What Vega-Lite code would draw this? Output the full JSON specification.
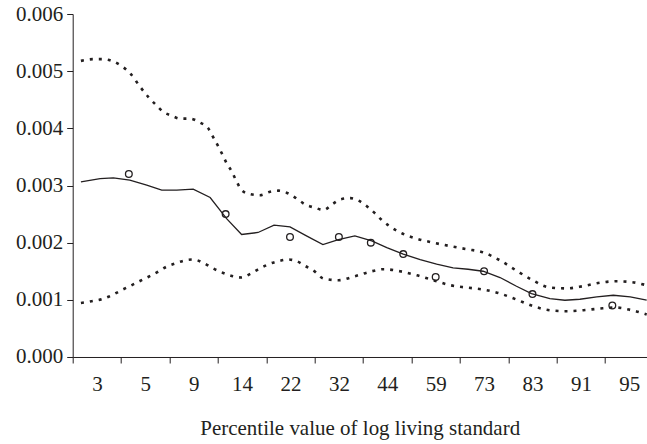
{
  "$schema": "https://vega.github.io/schema/vega-lite/v6.json",
  "width": 574,
  "height": 343,
  "autosize": {"type": "none"},
  "padding": {"left": 72.7, "top": 14, "right": 0, "bottom": 87},
  "background": "white",
  "config": {
    "view": {"stroke": null},
    "axis": {
      "labelFont": "Liberation Serif",
      "titleFont": "Liberation Serif",
      "labelFontSize": 21,
      "titleFontSize": 21,
      "titleFontWeight": "normal",
      "labelColor": "#231f20",
      "titleColor": "#231f20",
      "domainColor": "#231f20",
      "tickColor": "#231f20",
      "grid": false,
      "tickSize": 6
    }
  },
  "datasets": {
    "mid": [
      {"x": 0.17, "y": 0.003065}, {"x": 0.566, "y": 0.00312}, {"x": 0.84, "y": 0.003135},
      {"x": 1.18, "y": 0.003095}, {"x": 1.53, "y": 0.003007}, {"x": 1.84, "y": 0.00292},
      {"x": 2.15, "y": 0.00292}, {"x": 2.49, "y": 0.002937}, {"x": 2.84, "y": 0.00279},
      {"x": 3.18, "y": 0.00242}, {"x": 3.49, "y": 0.002143}, {"x": 3.83, "y": 0.002178},
      {"x": 4.16, "y": 0.002306}, {"x": 4.49, "y": 0.002277}, {"x": 4.83, "y": 0.00212},
      {"x": 5.17, "y": 0.001968}, {"x": 5.49, "y": 0.002055}, {"x": 5.83, "y": 0.00212},
      {"x": 6.18, "y": 0.00203}, {"x": 6.49, "y": 0.001915}, {"x": 6.83, "y": 0.0018},
      {"x": 7.18, "y": 0.001705}, {"x": 7.52, "y": 0.001623}, {"x": 7.86, "y": 0.00156},
      {"x": 8.17, "y": 0.001535}, {"x": 8.48, "y": 0.0015}, {"x": 8.83, "y": 0.00139},
      {"x": 9.17, "y": 0.001238}, {"x": 9.48, "y": 0.00111}, {"x": 9.86, "y": 0.001022},
      {"x": 10.17, "y": 0.000993}, {"x": 10.48, "y": 0.00101}, {"x": 10.83, "y": 0.00105},
      {"x": 11.17, "y": 0.00108}, {"x": 11.52, "y": 0.00105}, {"x": 11.86, "y": 0.000993}
    ],
    "upper": [
      {"x": 0.17, "y": 0.00518}, {"x": 0.43, "y": 0.00521}, {"x": 0.63, "y": 0.00521},
      {"x": 0.84, "y": 0.00517}, {"x": 1.01, "y": 0.00509}, {"x": 1.18, "y": 0.00497},
      {"x": 1.39, "y": 0.00473}, {"x": 1.56, "y": 0.00455}, {"x": 1.72, "y": 0.00441},
      {"x": 1.87, "y": 0.00429}, {"x": 2.05, "y": 0.00422}, {"x": 2.22, "y": 0.00417},
      {"x": 2.42, "y": 0.00417}, {"x": 2.63, "y": 0.0041}, {"x": 2.8, "y": 0.004},
      {"x": 2.9, "y": 0.00385}, {"x": 3.01, "y": 0.00368}, {"x": 3.1, "y": 0.00353},
      {"x": 3.18, "y": 0.00339}, {"x": 3.29, "y": 0.00324}, {"x": 3.39, "y": 0.003065},
      {"x": 3.49, "y": 0.00292}, {"x": 3.66, "y": 0.00285}, {"x": 3.87, "y": 0.00283},
      {"x": 4.08, "y": 0.00289}, {"x": 4.25, "y": 0.00291}, {"x": 4.43, "y": 0.00287},
      {"x": 4.63, "y": 0.00277}, {"x": 4.8, "y": 0.00267}, {"x": 5.01, "y": 0.00261},
      {"x": 5.18, "y": 0.00257}, {"x": 5.36, "y": 0.00267}, {"x": 5.54, "y": 0.00276},
      {"x": 5.74, "y": 0.00278}, {"x": 5.92, "y": 0.00273}, {"x": 6.09, "y": 0.00263},
      {"x": 6.25, "y": 0.00251}, {"x": 6.38, "y": 0.0024}, {"x": 6.56, "y": 0.00228},
      {"x": 6.76, "y": 0.00218}, {"x": 7.11, "y": 0.00207}, {"x": 7.45, "y": 0.002},
      {"x": 7.8, "y": 0.00194}, {"x": 8.14, "y": 0.001886}, {"x": 8.48, "y": 0.00183},
      {"x": 8.83, "y": 0.00169}, {"x": 9.17, "y": 0.00151}, {"x": 9.48, "y": 0.001355},
      {"x": 9.86, "y": 0.001215}, {"x": 10.2, "y": 0.0012}, {"x": 10.55, "y": 0.00124},
      {"x": 10.9, "y": 0.0013}, {"x": 11.24, "y": 0.001325}, {"x": 11.55, "y": 0.00131},
      {"x": 11.86, "y": 0.001255}
    ],
    "lower": [
      {"x": 0.17, "y": 0.000946}, {"x": 0.39, "y": 0.000975}, {"x": 0.6, "y": 0.00101},
      {"x": 0.81, "y": 0.00108}, {"x": 1.01, "y": 0.00117}, {"x": 1.18, "y": 0.00124},
      {"x": 1.39, "y": 0.00133}, {"x": 1.56, "y": 0.0014}, {"x": 1.74, "y": 0.00148},
      {"x": 1.94, "y": 0.00158}, {"x": 2.11, "y": 0.001635}, {"x": 2.32, "y": 0.00169},
      {"x": 2.49, "y": 0.001705}, {"x": 2.7, "y": 0.001646}, {"x": 2.9, "y": 0.00155},
      {"x": 3.11, "y": 0.00147}, {"x": 3.32, "y": 0.00141}, {"x": 3.49, "y": 0.00139},
      {"x": 3.66, "y": 0.00145}, {"x": 3.87, "y": 0.00155}, {"x": 4.04, "y": 0.00162},
      {"x": 4.25, "y": 0.001676}, {"x": 4.45, "y": 0.001705}, {"x": 4.63, "y": 0.001676},
      {"x": 4.8, "y": 0.001594}, {"x": 5.01, "y": 0.00149}, {"x": 5.18, "y": 0.001373},
      {"x": 5.49, "y": 0.001343}, {"x": 5.83, "y": 0.001413}, {"x": 6.18, "y": 0.0015},
      {"x": 6.42, "y": 0.001536}, {"x": 6.76, "y": 0.0015}, {"x": 7.11, "y": 0.00143},
      {"x": 7.45, "y": 0.001343}, {"x": 7.8, "y": 0.001256}, {"x": 8.14, "y": 0.001215},
      {"x": 8.48, "y": 0.00118}, {"x": 8.83, "y": 0.00111}, {"x": 9.17, "y": 0.001005},
      {"x": 9.52, "y": 0.000888}, {"x": 9.86, "y": 0.000818}, {"x": 10.2, "y": 0.0008},
      {"x": 10.55, "y": 0.000818}, {"x": 10.9, "y": 0.000848}, {"x": 11.24, "y": 0.000865},
      {"x": 11.55, "y": 0.000818}, {"x": 11.86, "y": 0.000743}
    ],
    "points": [
      {"x": 1.16, "y": 0.0032}, {"x": 3.16, "y": 0.0025}, {"x": 4.49, "y": 0.0021},
      {"x": 5.5, "y": 0.0021}, {"x": 6.16, "y": 0.002}, {"x": 6.83, "y": 0.0018},
      {"x": 7.5, "y": 0.0014}, {"x": 8.5, "y": 0.0015}, {"x": 9.5, "y": 0.0011},
      {"x": 11.15, "y": 0.0009}
    ]
  },
  "encoding": {
    "x": {
      "field": "x",
      "type": "quantitative",
      "scale": {"domain": [0, 11.86], "nice": false, "zero": false},
      "axis": {
        "values": [0, 1, 2, 3, 4, 5, 6, 7, 8, 9, 10, 11],
        "labelExpr": "['3','5','9','14','22','32','44','59','73','83','91','95'][datum.value]",
        "labelOffset": 24.2,
        "labelFlush": false,
        "labelPadding": 11,
        "title": "Percentile value of log living standard",
        "titlePadding": 23
      }
    },
    "y": {
      "field": "y",
      "type": "quantitative",
      "scale": {"domain": [0, 0.006], "nice": false},
      "axis": {
        "values": [0, 0.001, 0.002, 0.003, 0.004, 0.005, 0.006],
        "format": ".3f",
        "labelPadding": 4,
        "title": null
      }
    }
  },
  "layer": [
    {
      "data": {"name": "upper"},
      "mark": {"type": "line", "interpolate": "monotone", "color": "#231f20", "strokeWidth": 2.6, "strokeDash": [3, 6]}
    },
    {
      "data": {"name": "lower"},
      "mark": {"type": "line", "interpolate": "monotone", "color": "#231f20", "strokeWidth": 2.6, "strokeDash": [3, 6]}
    },
    {
      "data": {"name": "mid"},
      "mark": {"type": "line", "color": "#231f20", "strokeWidth": 1.3}
    },
    {
      "data": {"name": "points"},
      "mark": {"type": "point", "shape": "circle", "filled": false, "color": "#231f20", "strokeWidth": 1.3, "size": 45, "opacity": 1}
    }
  ]
}
